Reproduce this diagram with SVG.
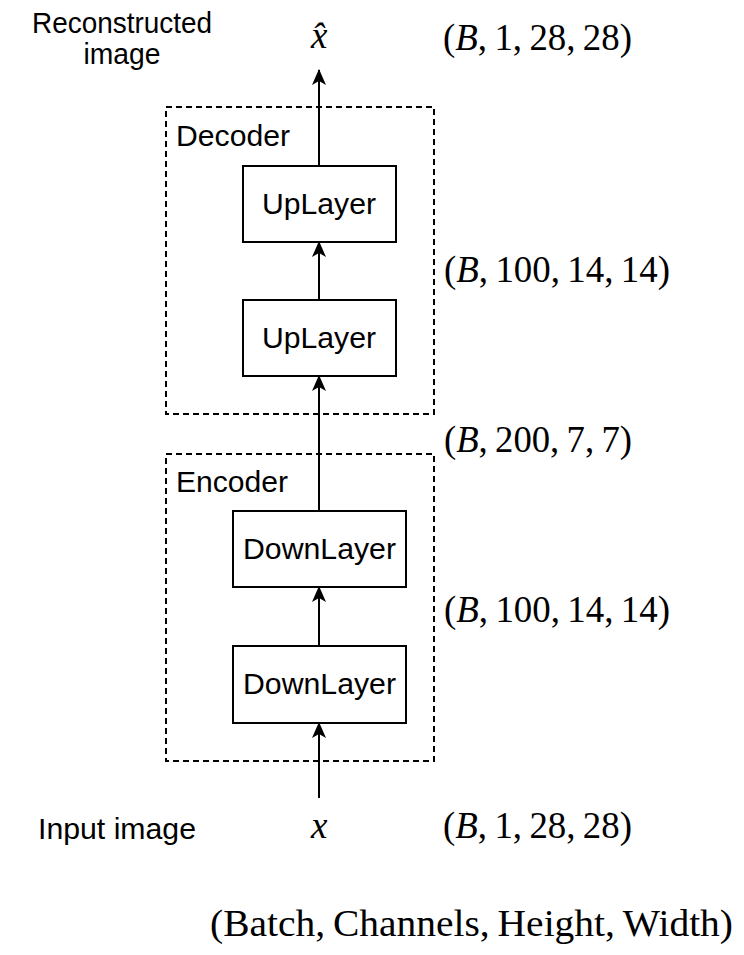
<svg xmlns="http://www.w3.org/2000/svg" width="744" height="955" viewBox="0 0 744 955">
<style>
.sans{font-family:"Liberation Sans",Arial,sans-serif;font-size:29px;fill:#000}
.math{font-family:"Liberation Serif","Times New Roman",serif;font-size:37px;fill:#000}
.box{fill:#fff;stroke:#000;stroke-width:2}
.group{fill:none;stroke:#000;stroke-width:2;stroke-dasharray:6 4}
.edge{stroke:#000;stroke-width:2;fill:none;marker-end:url(#arr)}
</style>
<defs>
<marker id="arr" viewBox="0 0 16 14" refX="15" refY="7" markerWidth="16" markerHeight="14" markerUnits="userSpaceOnUse" orient="auto">
<path d="M0,0 L16,7 L0,14 L4,7 z" fill="#000"/>
</marker>
</defs>
<g id="decoder">
<rect class="group" x="166" y="107" width="268" height="307"/>
<text class="sans" x="176" y="146" textLength="114" lengthAdjust="spacingAndGlyphs">Decoder</text>
</g>
<g id="encoder">
<rect class="group" x="166" y="454" width="268" height="307"/>
<text class="sans" x="176" y="492" textLength="112" lengthAdjust="spacingAndGlyphs">Encoder</text>
</g>
<g id="connectors">
<line class="edge" x1="319" y1="166" x2="319" y2="70"/>
<line class="edge" x1="319" y1="300" x2="319" y2="242"/>
<line class="edge" x1="319" y1="511" x2="319" y2="376"/>
<line class="edge" x1="319" y1="646" x2="319" y2="587"/>
<line class="edge" x1="319" y1="798" x2="319" y2="723"/>
</g>
<g id="uplayer1">
<rect class="box" x="243" y="166" width="153" height="76"/>
<text class="sans" x="262" y="214" textLength="114" lengthAdjust="spacingAndGlyphs">UpLayer</text>
</g>
<g id="uplayer2">
<rect class="box" x="243" y="300" width="153" height="76"/>
<text class="sans" x="262" y="348" textLength="114" lengthAdjust="spacingAndGlyphs">UpLayer</text>
</g>
<g id="downlayer1">
<rect class="box" x="233" y="511" width="173" height="76"/>
<text class="sans" x="243" y="559" textLength="153" lengthAdjust="spacingAndGlyphs">DownLayer</text>
</g>
<g id="downlayer2">
<rect class="box" x="233" y="646" width="173" height="77"/>
<text class="sans" x="243" y="694" textLength="153" lengthAdjust="spacingAndGlyphs">DownLayer</text>
</g>
<g id="labels">
<text class="sans" x="122" y="33" text-anchor="middle" textLength="180" lengthAdjust="spacingAndGlyphs">Reconstructed</text>
<text class="sans" x="122" y="64" text-anchor="middle" textLength="77" lengthAdjust="spacingAndGlyphs">image</text>
<text class="sans" x="38" y="839" textLength="158" lengthAdjust="spacingAndGlyphs">Input image</text>
<text class="math" x="311" y="48" font-style="italic">x&#770;</text>
<text class="math" x="311" y="838" font-style="italic">x</text>
<text class="math" x="443" y="50" textLength="189" lengthAdjust="spacingAndGlyphs">(<tspan font-style="italic">B</tspan>,&#8201;1,&#8201;28,&#8201;28)</text>
<text class="math" x="444" y="282" textLength="226" lengthAdjust="spacingAndGlyphs">(<tspan font-style="italic">B</tspan>,&#8201;100,&#8201;14,&#8201;14)</text>
<text class="math" x="444" y="452" textLength="188" lengthAdjust="spacingAndGlyphs">(<tspan font-style="italic">B</tspan>,&#8201;200,&#8201;7,&#8201;7)</text>
<text class="math" x="444" y="622" textLength="226" lengthAdjust="spacingAndGlyphs">(<tspan font-style="italic">B</tspan>,&#8201;100,&#8201;14,&#8201;14)</text>
<text class="math" x="443" y="838" textLength="189" lengthAdjust="spacingAndGlyphs">(<tspan font-style="italic">B</tspan>,&#8201;1,&#8201;28,&#8201;28)</text>
<text class="math" x="210" y="936" textLength="523" lengthAdjust="spacingAndGlyphs">(Batch,&#8201;Channels,&#8201;Height,&#8201;Width)</text>
</g>
</svg>
